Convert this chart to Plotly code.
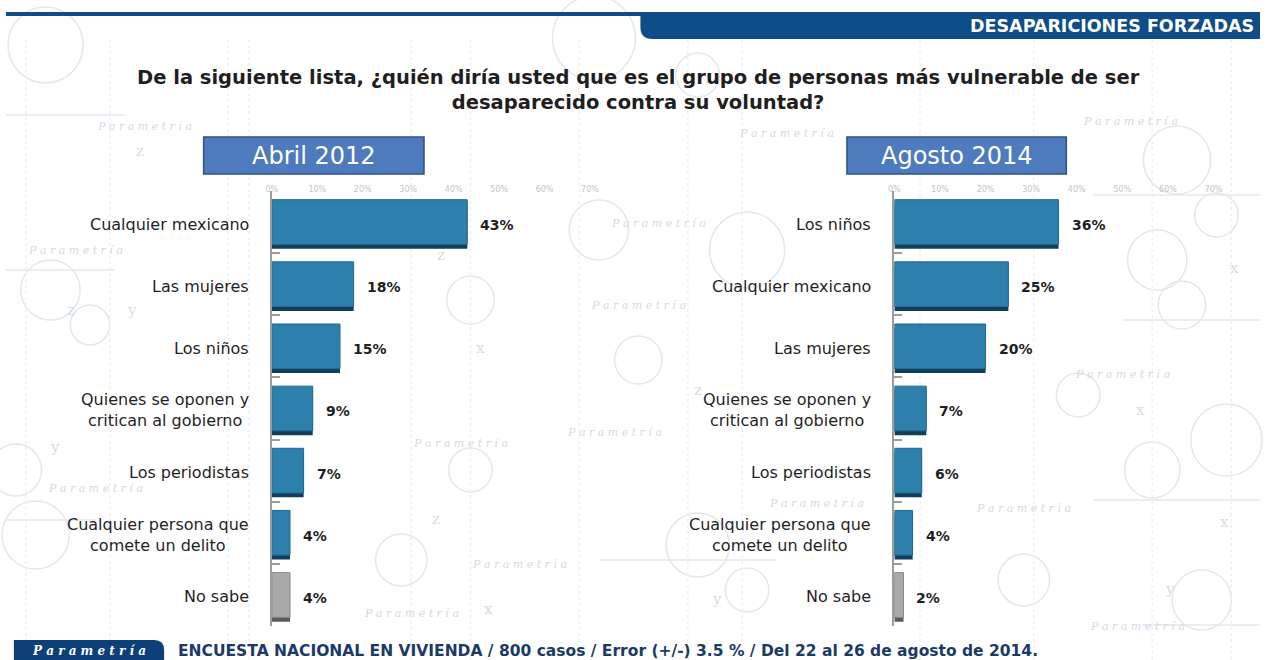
import plotly.graph_objects as go

W, H = 1269, 660

# ---------------- data ----------------
cats_2012 = ["Cualquier mexicano", "Las mujeres", "Los niños",
             "Quienes se oponen y<br>critican al gobierno", "Los periodistas",
             "Cualquier persona que<br>comete un delito", "No sabe"]
vals_2012 = [43, 18, 15, 9, 7, 4, 4]

cats_2014 = ["Los niños", "Cualquier mexicano", "Las mujeres",
             "Quienes se oponen y<br>critican al gobierno", "Los periodistas",
             "Cualquier persona que<br>comete un delito", "No sabe"]
vals_2014 = [36, 25, 20, 7, 6, 4, 2]

x_ticks = [0, 10, 20, 30, 40, 50, 60, 70]
x_tick_labels = ["0%", "10%", "20%", "30%", "40%", "50%", "60%", "70%"]

title_text = ("De la siguiente lista, ¿quién diría usted que es el grupo de personas más vulnerable de ser"
              "<br>desaparecido contra su voluntad?")
panel_titles = ["Abril 2012", "Agosto 2014"]
header_text = "DESAPARICIONES FORZADAS"
footer_text = "ENCUESTA NACIONAL EN VIVIENDA / 800 casos / Error (+/-) 3.5 % / Del 22 al 26 de agosto de 2014."

# ---------------- helpers ----------------
def px(x):
    return x / W

def py(y):
    return 1 - y / H

BAR = "#2c80ab"
BAR_EDGE = "#1d6a92"
BAR_SHADOW = "#123e58"
GRAY = "#a9a9a9"
GRAY_EDGE = "#8a8a8a"
GRAY_SHADOW = "#5a5a5a"
FONT = "DejaVu Sans"
TXT = "#1f1f1f"
BW = 0.72

def pick(cats, a, b):
    return [b if c == "No sabe" else a for c in cats]

fig = go.Figure()
for cats, vals, xr, yr in [(cats_2012, vals_2012, "x", "y"), (cats_2014, vals_2014, "x2", "y2")]:
    # dark "3D" bottom face
    fig.add_trace(go.Bar(x=vals, y=cats, orientation="h", width=BW, offset=-BW / 2 + 0.07,
                         marker=dict(color=pick(cats, BAR_SHADOW, GRAY_SHADOW), line_width=0),
                         xaxis=xr, yaxis=yr, hoverinfo="skip"))
    # front face
    fig.add_trace(go.Bar(x=vals, y=cats, orientation="h", width=BW, offset=-BW / 2,
                         marker=dict(color=pick(cats, BAR, GRAY),
                                     line=dict(color=pick(cats, BAR_EDGE, GRAY_EDGE), width=1)),
                         xaxis=xr, yaxis=yr, hoverinfo="x+y"))

y_dom = [py(626), py(191)]
xa = dict(range=[0, 70], side="top", tickvals=x_ticks, ticktext=x_tick_labels,
          tickfont=dict(size=8, color="#c4c4c4", family=FONT), ticklabelstandoff=-4,
          showgrid=False, zeroline=False, showline=False, ticks="", fixedrange=True)
ya = dict(type="category", autorange="reversed", showline=True,
          linecolor="#9c9c9c", linewidth=2, ticks="inside", ticklen=8,
          tickcolor="#9c9c9c", tickwidth=1.5, tickson="boundaries",
          showticklabels=False, showgrid=False, zeroline=False, fixedrange=True)

fig.update_layout(
    width=W, height=H, margin=dict(l=0, r=0, t=0, b=0),
    paper_bgcolor="white", plot_bgcolor="rgba(0,0,0,0)",
    showlegend=False, barmode="overlay",
    xaxis=dict(domain=[px(269), px(591)], anchor="y", **xa),
    yaxis=dict(domain=y_dom, anchor="x", categoryorder="array",
               categoryarray=cats_2012, **ya),
    xaxis2=dict(domain=[px(899), px(1222)], anchor="y2", **xa),
    yaxis2=dict(domain=y_dom, anchor="x2", categoryorder="array",
                categoryarray=cats_2014, **ya),
)

shapes = []
ann = []

# ---------- watermark background ----------
WM = "#e2e8ee"
circles = [(40, 45, 38), (595, 38, 42), (700, 75, 22), (1185, 160, 34), (1225, 215, 22),
           (1165, 260, 30), (45, 290, 30), (1190, 305, 24), (1235, 440, 36), (1160, 470, 28),
           (30, 535, 34), (700, 545, 32), (750, 590, 22), (1210, 600, 30), (1030, 580, 26),
           (400, 560, 26), (470, 300, 24), (600, 230, 30), (750, 250, 38), (640, 360, 24),
           (85, 325, 20), (10, 470, 26), (470, 470, 22), (1085, 395, 22)]
for cx, cy, r in circles:
    shapes.append(dict(type="circle", xref="paper", yref="paper",
                       x0=px(cx - r), x1=px(cx + r), y0=py(cy + r), y1=py(cy - r),
                       line=dict(color=WM, width=1.5), layer="below"))
vlines = [20, 105, 225, 246, 410, 470, 580, 690, 745, 925, 1040, 1160, 1240]
for vx in vlines:
    shapes.append(dict(type="line", xref="paper", yref="paper",
                       x0=px(vx), x1=px(vx), y0=py(660), y1=py(40),
                       line=dict(color="#edf1f5", width=1.5, dash="dot"), layer="below"))
hlines = [(0, 120, 115), (1100, 1269, 195), (0, 110, 270), (1130, 1269, 320),
          (1100, 1269, 500), (0, 90, 520), (600, 780, 560), (1150, 1269, 625)]
for x0, x1, hy in hlines:
    shapes.append(dict(type="line", xref="paper", yref="paper",
                       x0=px(x0), x1=px(x1), y0=py(hy), y1=py(hy),
                       line=dict(color=WM, width=1.5), layer="below"))
wm_texts = [(90, 118), (1188, 113), (790, 125), (660, 215), (20, 250), (1180, 374),
            (40, 497), (520, 573), (616, 433), (410, 452), (1080, 517), (1195, 635),
            (360, 622), (640, 305), (820, 512)]
for tx, ty in wm_texts:
    ann.append(dict(text="<i>P a r a m e t r í a</i>", x=px(tx), y=py(ty), xref="paper",
                    yref="paper", showarrow=False,
                    font=dict(family="DejaVu Serif", size=11, color="#d3dbe4")))
for lx, ly, lt in [(130, 140, "z"), (120, 310, "y"), (60, 310, "z"),
                   (42, 458, "y"), (480, 348, "x"), (440, 255, "z"), (1155, 410, "x"),
                   (1250, 268, "x"), (1240, 533, "x"), (700, 390, "z"), (1185, 600, "y"),
                   (720, 610, "y"), (435, 530, "z"), (488, 620, "x")]:
    ann.append(dict(text=lt, x=px(lx), y=py(ly), xref="paper", yref="paper", showarrow=False,
                    font=dict(family="DejaVu Serif", size=15, color="#d6dee6")))

# ---------- header ----------
shapes.append(dict(type="rect", xref="paper", yref="paper", x0=0, x1=1,
                   y0=py(16), y1=py(12), fillcolor="#0e4d88", line_width=0))
tab = (f"M {px(642)},{py(12)} L {px(1269)},{py(12)} L {px(1269)},{py(39)} "
       f"L {px(654)},{py(39)} Q {px(642)},{py(39)} {px(642)},{py(27)} Z")
shapes.append(dict(type="path", xref="paper", yref="paper", path=tab,
                   fillcolor="#0e4d88", line_width=0))
ann.append(dict(text=f"<b>{header_text}</b>", x=px(1265), y=py(26), xref="paper", yref="paper",
                xanchor="right", yanchor="middle", showarrow=False,
                font=dict(family=FONT, size=17.5, color="white")))

# ---------- title ----------
ann.append(dict(text=f"<b>{title_text}</b>", x=px(640), y=py(90), xref="paper", yref="paper",
                xanchor="center", yanchor="middle", showarrow=False, align="center",
                font=dict(family=FONT, size=19.5, color=TXT)))

# ---------- panel titles ----------
for (x0, x1), t in zip([(200, 423), (851, 1073)], panel_titles):
    shapes.append(dict(type="rect", xref="paper", yref="paper",
                       x0=px(x0), x1=px(x1), y0=py(174), y1=py(137),
                       fillcolor="#4d7bbd", line=dict(color="#2f5286", width=1.5)))
    ann.append(dict(text=t, x=px((x0 + x1) / 2), y=py(156), xref="paper", yref="paper",
                    xanchor="center", yanchor="middle", showarrow=False,
                    font=dict(family=FONT, size=24, color="white")))

# ---------- category & value labels ----------
for cats, vals, xr, yr in [(cats_2012, vals_2012, "x", "y"), (cats_2014, vals_2014, "x2", "y2")]:
    for c, v in zip(cats, vals):
        ann.append(dict(text=c, x=0, y=c, xref=f"{xr} domain", yref=yr,
                        xanchor="right", yanchor="middle", xshift=-21, yshift=-2,
                        showarrow=False, align="center",
                        font=dict(family=FONT, size=16, color=TXT)))
        ann.append(dict(text=f"<b>{v}%</b>", x=v, y=c, xref=xr, yref=yr,
                        xanchor="left", yanchor="middle", xshift=11, yshift=-3,
                        showarrow=False, font=dict(family=FONT, size=14, color=TXT)))

# ---------- footer ----------
logo = (f"M {px(8)},{py(660)} L {px(8)},{py(640)} L {px(150)},{py(640)} "
        f"Q {px(160)},{py(640)} {px(160)},{py(650)} L {px(160)},{py(660)} Z")
shapes.append(dict(type="path", xref="paper", yref="paper", path=logo,
                   fillcolor="#0d3f78", line_width=0))
ann.append(dict(text="<i><b>P a r a m e t r í a</b></i>", x=px(84), y=py(651), xref="paper",
                yref="paper", xanchor="center", yanchor="middle", showarrow=False,
                font=dict(family="DejaVu Serif", size=12, color="white")))
ann.append(dict(text=f"<b>{footer_text}</b>", x=px(172), y=py(651), xref="paper", yref="paper",
                xanchor="left", yanchor="middle", showarrow=False,
                font=dict(family=FONT, size=15.5, color="#1b3a66")))

fig.update_layout(shapes=shapes, annotations=ann)
fig.write_html("out.html", config={"displayModeBar": False},
               post_script="document.body.style.margin='0';")
